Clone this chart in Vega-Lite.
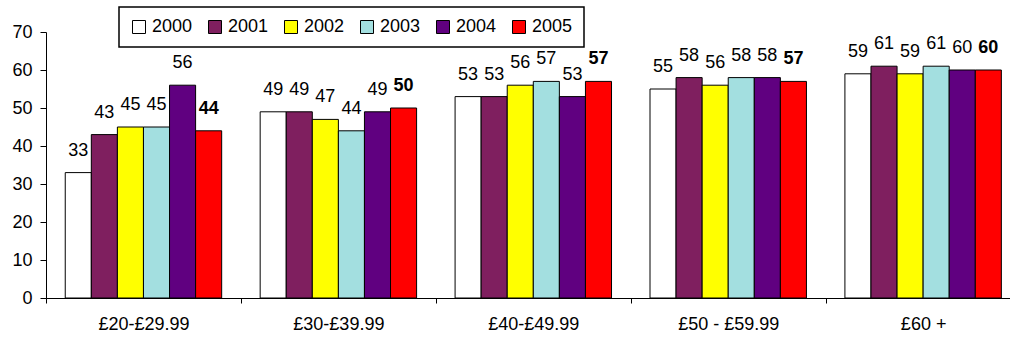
{
  "$schema": "https://vega.github.io/schema/vega-lite/v6.json",
  "width": 964,
  "height": 266,
  "autosize": {"type": "none"},
  "padding": {"left": 46, "top": 32, "right": 0, "bottom": 39},
  "background": "white",
  "data": {
    "values": [
      {"band": "£20-£29.99", "year": "2000", "value": 33},
      {"band": "£20-£29.99", "year": "2001", "value": 43},
      {"band": "£20-£29.99", "year": "2002", "value": 45},
      {"band": "£20-£29.99", "year": "2003", "value": 45},
      {"band": "£20-£29.99", "year": "2004", "value": 56},
      {"band": "£20-£29.99", "year": "2005", "value": 44},
      {"band": "£30-£39.99", "year": "2000", "value": 49},
      {"band": "£30-£39.99", "year": "2001", "value": 49},
      {"band": "£30-£39.99", "year": "2002", "value": 47},
      {"band": "£30-£39.99", "year": "2003", "value": 44},
      {"band": "£30-£39.99", "year": "2004", "value": 49},
      {"band": "£30-£39.99", "year": "2005", "value": 50},
      {"band": "£40-£49.99", "year": "2000", "value": 53},
      {"band": "£40-£49.99", "year": "2001", "value": 53},
      {"band": "£40-£49.99", "year": "2002", "value": 56},
      {"band": "£40-£49.99", "year": "2003", "value": 57},
      {"band": "£40-£49.99", "year": "2004", "value": 53},
      {"band": "£40-£49.99", "year": "2005", "value": 57},
      {"band": "£50 - £59.99", "year": "2000", "value": 55},
      {"band": "£50 - £59.99", "year": "2001", "value": 58},
      {"band": "£50 - £59.99", "year": "2002", "value": 56},
      {"band": "£50 - £59.99", "year": "2003", "value": 58},
      {"band": "£50 - £59.99", "year": "2004", "value": 58},
      {"band": "£50 - £59.99", "year": "2005", "value": 57},
      {"band": "£60 +", "year": "2000", "value": 59},
      {"band": "£60 +", "year": "2001", "value": 61},
      {"band": "£60 +", "year": "2002", "value": 59},
      {"band": "£60 +", "year": "2003", "value": 61},
      {"band": "£60 +", "year": "2004", "value": 60},
      {"band": "£60 +", "year": "2005", "value": 60}
    ]
  },
  "encoding": {
    "x": {
      "field": "band",
      "type": "nominal",
      "sort": ["£20-£29.99", "£30-£39.99", "£40-£49.99", "£50 - £59.99", "£60 +"],
      "scale": {"range": [0, 974.6], "paddingInner": 0, "paddingOuter": 0},
      "axis": {
        "title": null,
        "labelAngle": 0,
        "tickBand": "extent",
        "tickSize": 5,
        "tickColor": "black",
        "domainColor": "black",
        "labelFontSize": 18,
        "labelFont": "Liberation Sans",
        "labelColor": "black",
        "labelPadding": 12,
        "grid": false
      }
    },
    "xOffset": {
      "field": "year",
      "type": "nominal",
      "scale": {"paddingInner": 0, "paddingOuter": 0.738}
    },
    "y": {
      "field": "value",
      "type": "quantitative",
      "scale": {"domain": [0, 70]},
      "axis": {
        "title": null,
        "values": [0, 10, 20, 30, 40, 50, 60, 70],
        "grid": false,
        "tickSize": 6,
        "tickColor": "black",
        "domainColor": "black",
        "labelFontSize": 18,
        "labelFont": "Liberation Sans",
        "labelColor": "black",
        "labelPadding": 8
      }
    }
  },
  "layer": [
    {
      "mark": {"type": "bar", "stroke": "black", "strokeWidth": 1},
      "encoding": {
        "fill": {
          "field": "year",
          "type": "nominal",
          "scale": {
            "domain": ["2000", "2001", "2002", "2003", "2004", "2005"],
            "range": ["#FFFFFF", "#7F1F5F", "#FFFF00", "#A3DFE0", "#600080", "#FF0000"]
          },
          "legend": {
            "title": null,
            "orient": "none",
            "legendX": 73,
            "legendY": -25,
            "direction": "horizontal",
            "columns": 6,
            "symbolType": "square",
            "symbolSize": 169,
            "symbolStrokeColor": "black",
            "symbolStrokeWidth": 1,
            "symbolOpacity": 1,
            "labelFontSize": 18,
            "labelFont": "Liberation Sans",
            "labelColor": "black",
            "labelOffset": 4,
            "columnPadding": 13,
            "padding": 11,
            "strokeColor": "black",
            "fillColor": "white"
          }
        }
      }
    },
    {
      "transform": [{"filter": "datum.year !== '2005'"}],
      "mark": {
        "type": "text",
        "baseline": "alphabetic",
        "dy": -17,
        "fontSize": 18,
        "font": "Liberation Sans",
        "color": "black"
      },
      "encoding": {
        "text": {"field": "value", "type": "quantitative"}
      }
    },
    {
      "transform": [{"filter": "datum.year === '2005'"}],
      "mark": {
        "type": "text",
        "baseline": "alphabetic",
        "dy": -17,
        "fontSize": 18,
        "fontWeight": "bold",
        "font": "Liberation Sans",
        "color": "black"
      },
      "encoding": {
        "text": {"field": "value", "type": "quantitative"}
      }
    }
  ],
  "config": {
    "view": {"stroke": null},
    "legend": {"strokeWidth": 1.5}
  }
}
